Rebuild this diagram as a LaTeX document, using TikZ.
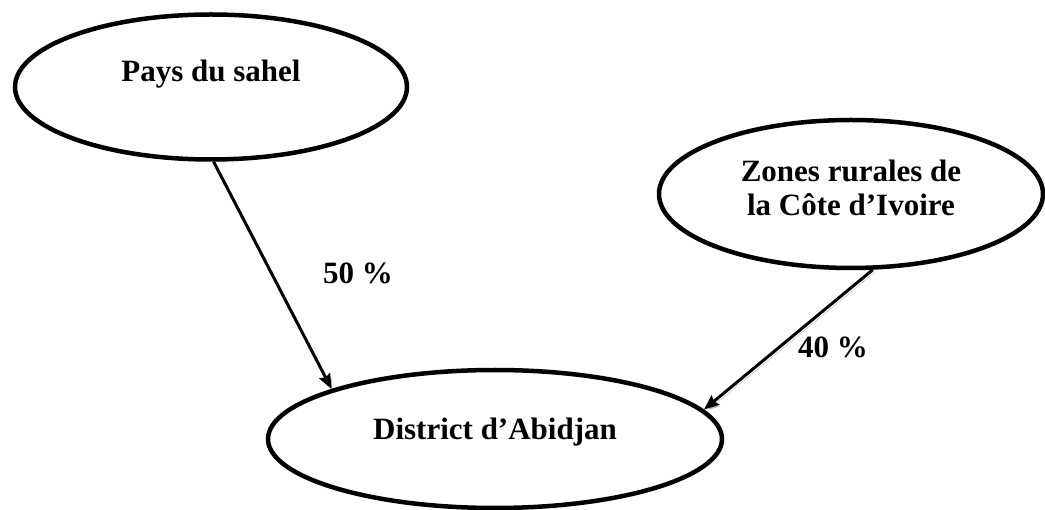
\documentclass[tikz,border=0pt]{standalone}
\usepackage{fontspec}
\setmainfont{Liberation Serif}
\usetikzlibrary{shapes.geometric,arrows.meta}
\begin{document}
\begin{tikzpicture}[x=1pt,y=-1pt,
    zone/.style={ellipse,draw,line width=4.5pt,inner sep=0pt,align=center,
      font=\fontsize{31}{34}\selectfont\bfseries},
    flux/.style={line width=3pt,-{Stealth[length=15pt,width=12pt,inset=2pt]},
      preaction={draw=gray!60,transform canvas={shift={(2.2pt,-2.2pt)}}}},
    pct/.style={font=\fontsize{31}{34}\selectfont\bfseries}]
    \useasboundingbox (0,0) rectangle (1045,510);
    \node[zone,minimum width=392pt,minimum height=145pt,text height=21pt,text depth=31pt] (sahel) at (211,87) {Pays du sahel};
    \node[zone,minimum width=384pt,minimum height=148pt,text height=55pt,text depth=11pt] (rural) at (851,194) {Zones rurales de\\la Côte d’Ivoire};
    \node[zone,minimum width=454pt,minimum height=138pt,text height=21pt,text depth=19pt] (district) at (495,439) {District d’Abidjan};
    \draw[flux] (sahel.-88) -- (district.163);
    \draw[flux] (rural.-74) -- (district.8);
    \node[pct] (p50) at (358,273) {50 \%};
    \node[pct] (p40) at (833,347) {40 \%};
\end{tikzpicture}
\end{document}
